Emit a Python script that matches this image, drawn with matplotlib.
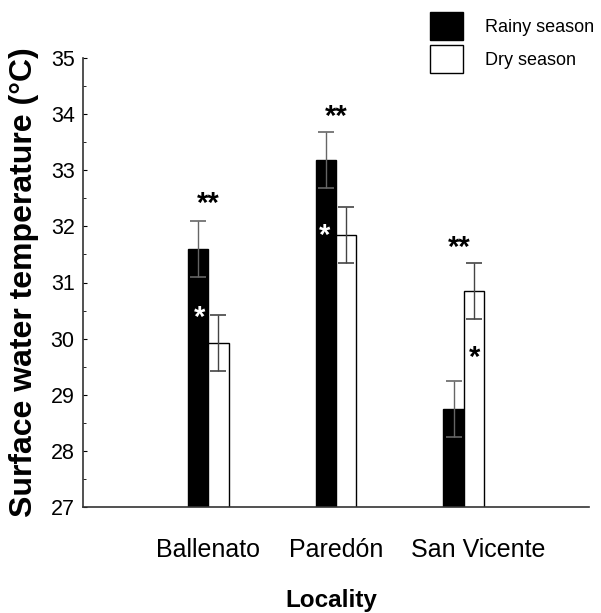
import numpy as np
import matplotlib
matplotlib.use('Agg')
import matplotlib.pyplot as plt
from matplotlib.patches import Patch
from matplotlib.transforms import ScaledTranslation

localities = ['Ballenato', 'Paredón', 'San Vicente']
rainy_mean = [31.60, 33.18, 28.75]
rainy_err = [0.50, 0.50, 0.50]
dry_mean = [29.92, 31.85, 30.85]
dry_err = [0.50, 0.50, 0.50]

# significance marks: (text, x, y, colour)
marks = [('**', 0.0, 32.26, 'black'),
         ('**', 1.0, 33.80, 'black'),
         ('**', 1.97, 31.48, 'black'),
         ('*', -0.07, 30.23, 'white'),
         ('*', 0.914, 31.69, 'white'),
         ('*', 2.086, 29.51, 'black')]

plt.rcParams['font.family'] = ['Liberation Sans', 'DejaVu Sans']

fig = plt.figure(figsize=(6.01, 6.13), dpi=100)
ax = fig.add_axes([83/601, 1-507/613, (589-83)/601, (507-58)/613])

x = np.arange(len(localities))
w = 0.157
ax.bar(x - w/2, rainy_mean, w, color='black', edgecolor='black', linewidth=1, zorder=2)
ax.bar(x + w/2, dry_mean, w, color='white', edgecolor='black', linewidth=1, zorder=2)
ax.errorbar(x - w/2, rainy_mean, yerr=rainy_err, fmt='none', ecolor='#666666',
            elinewidth=1, capsize=6, capthick=1.2, zorder=3)
ax.errorbar(x + w/2, dry_mean, yerr=dry_err, fmt='none', ecolor='#444444',
            elinewidth=1, capsize=6, capthick=1.2, zorder=3)

for txt, mx, my, col in marks:
    ax.text(mx, my, txt, ha='center', va='baseline', fontsize=21, fontweight='bold',
            color=col, zorder=4)

ax.set_xlim(-0.984, 2.984)
ax.set_ylim(27, 35)
ax.set_yticks(np.arange(27, 36, 1))
ax.set_yticks(np.arange(27.5, 35, 1), minor=True)
ax.tick_params(axis='y', which='major', direction='in', length=3, width=0.8, pad=6, labelsize=15.5)
ax.tick_params(axis='y', which='minor', direction='in', length=2, width=0.6)
ax.set_xticks(x)
ax.set_xticklabels(localities)
ax.tick_params(axis='x', length=0, pad=22, labelsize=18)
# San Vicente label sits a bit right in the original
lab = ax.get_xticklabels()[2]
lab.set_transform(lab.get_transform() + ScaledTranslation(15/100, 0, fig.dpi_scale_trans))

for s in ['top', 'right']:
    ax.spines[s].set_visible(False)
for s in ['left', 'bottom']:
    ax.spines[s].set_linewidth(1.2)
    ax.spines[s].set_color('#333333')

fig.text(24/601, 1-282/613, 'Surface water temperature (°C)', rotation=90,
         ha='center', va='center', fontsize=23, fontweight='bold')
fig.text(331/601, 1-607/613, 'Locality', ha='center', va='baseline',
         fontsize=17.5, fontweight='bold')

handles = [Patch(facecolor='black', edgecolor='black', linewidth=1),
           Patch(facecolor='white', edgecolor='black', linewidth=1)]
fig.legend(handles, ['Rainy season', 'Dry season'], loc='upper left',
           bbox_to_anchor=(430/601, 1-12/613), frameon=False, fontsize=13,
           handlelength=1.85, handleheight=2.0, labelspacing=0.3,
           handletextpad=1.2, borderpad=0, borderaxespad=0)

fig.savefig('out.png', dpi=100)
